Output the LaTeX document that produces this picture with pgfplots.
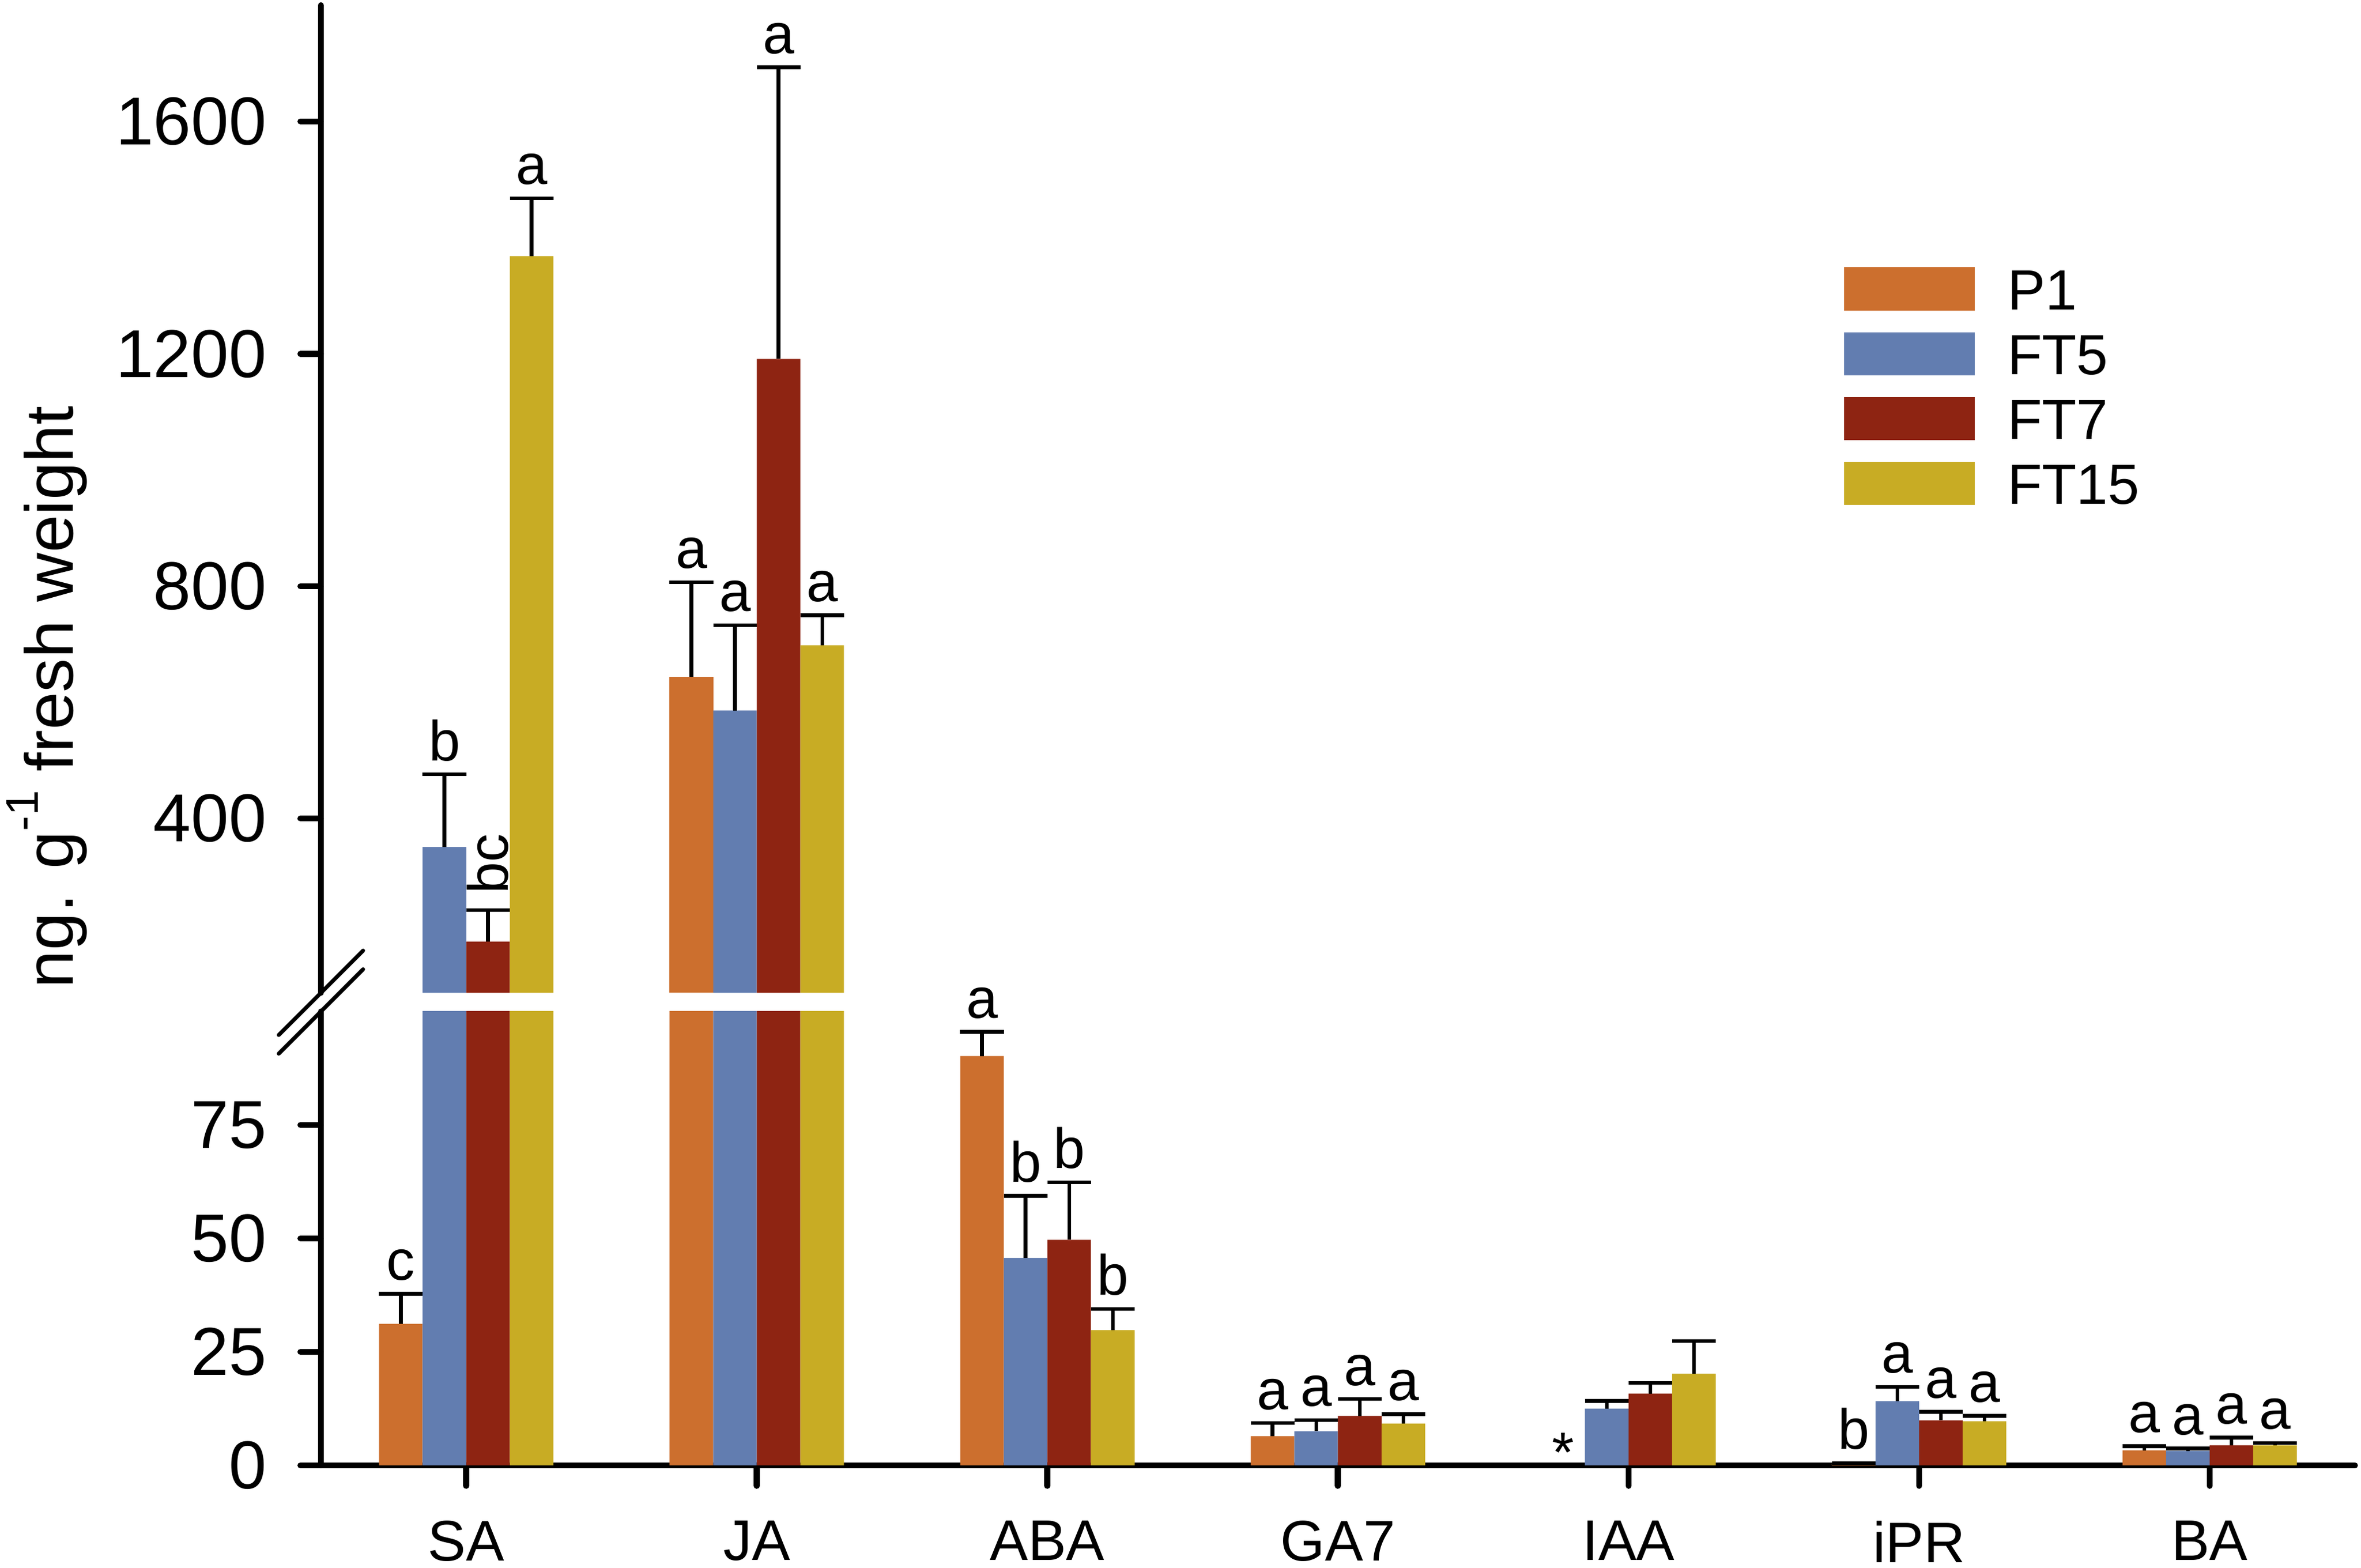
\documentclass[border=0pt]{standalone}
\usepackage{fontspec}
\setmainfont{Liberation Sans}
\usepackage{pgfplots}
\usepackage{pgfplotstable}
\pgfplotsset{compat=1.18}

\definecolor{cP}{RGB}{204,111,46}
\definecolor{cFa}{RGB}{98,125,176}
\definecolor{cFb}{RGB}{142,36,18}
\definecolor{cFc}{RGB}{200,172,36}

% x: 0 SA, 1 JA, 2 ABA, 3 GA7, 4 IAA, 5 iPR, 6 BA
\pgfplotstableread{
x y e
0 31.2 6.6
1 643.8 162.8
2 90.2 5.3
3 6.4 2.9
4 0 0
5 0.2 0.3
6 3.3 0.9
}\tP
\pgfplotstableread{
x y e
0 351 125
1 586 147
2 45.7 13.7
3 7.5 2.5
4 12.5 1.7
5 14.1 3.2
6 3.2 0.5
}\tFa
\pgfplotstableread{
x y e
0 188 54.5
1 1191 502
2 49.7 12.7
3 10.9 3.7
4 15.8 2.4
5 9.9 1.9
6 4.4 1.7
}\tFb
\pgfplotstableread{
x y e
0 1368 100
1 698 52
2 29.8 4.7
3 9.2 2.1
4 20.2 7.2
5 9.7 1.2
6 4.4 0.5
}\tFc

\pgfplotsset{
  every non boxed x axis/.append style={x axis line style={-}},
  every non boxed y axis/.append style={y axis line style={-}},
  mybase/.style={
    scale only axis, width=337.5pt, xmin=-0.5, xmax=6.5,
    enlargelimits=false,
    clip mode=individual,
    tick align=outside, major tick length=3.4pt,
    tick style={line width=1pt, black, line cap=round},
    axis line style={-, line width=1pt, black, line cap=round},
    /pgf/number format/assume math mode=true,
    /pgf/number format/1000 sep={},
    scaled y ticks=false,
    yticklabel style={inner sep=0pt, xshift=-5.4pt, font=\fontsize{11.25}{13}\selectfont},
  },
  bars/.style={ybar, bar width=0.15, bar shift=0pt, draw=none, fill=#1, forget plot,
    error bars/.cd, y dir=plus, y explicit,
    error bar style={line width=0.6pt, black},
    error mark options={rotate=90, mark size=3.62pt, line width=0.6pt, black}},
}
\tikzset{
  lbl/.style={anchor=south, inner sep=0pt, yshift=2pt, font=\fontsize{9.4}{10}\selectfont},
}

\newcommand{\allbars}{%
  \addplot[bars=cP] table[x expr=\thisrow{x}-0.225, y=y, y error=e]{\tP};
  \addplot[bars=cFa] table[x expr=\thisrow{x}-0.075, y=y, y error=e]{\tFa};
  \addplot[bars=cFb] table[x expr=\thisrow{x}+0.075, y=y, y error=e]{\tFb};
  \addplot[bars=cFc] table[x expr=\thisrow{x}+0.225, y=y, y error=e]{\tFc};
}

\begin{document}
\begin{tikzpicture}
\useasboundingbox (0,0) rectangle (391.75pt,260.15pt);

% lower part
\begin{axis}[mybase, name=lower, at={(53.25pt,17.03pt)}, anchor=south west,
  height=75.3pt, ymin=0, ymax=100, ytick={0,25,50,75},
  xtick={0,1,2,3,4,5,6}, xticklabels={SA,JA,ABA,GA7,IAA,iPR,BA},
  axis lines=left, axis line style={-}, tick align=outside,
  xticklabel style={inner sep=0pt, yshift=-5.6pt, font=\fontsize{9.5}{11}\selectfont},
]
\allbars
\node[lbl] at (axis cs:-0.225,37.8) {c};
\node[lbl] at (axis cs:1.775,95.5) {a};
\node[lbl] at (axis cs:1.925,59.4) {b};
\node[lbl] at (axis cs:2.075,62.4) {b};
\node[lbl] at (axis cs:2.225,34.5) {b};
\node[lbl] at (axis cs:2.775,9.3) {a};
\node[lbl] at (axis cs:2.925,10.0) {a};
\node[lbl] at (axis cs:3.075,14.6) {a};
\node[lbl] at (axis cs:3.225,11.3) {a};
\node[anchor=base, inner sep=0pt, font=\fontsize{9.4}{10}\selectfont] at (axis cs:3.775,-1.5) {*};
\node[lbl] at (axis cs:4.775,0.5) {b};
\node[lbl] at (axis cs:4.925,17.3) {a};
\node[lbl] at (axis cs:5.075,11.8) {a};
\node[lbl] at (axis cs:5.225,10.9) {a};
\node[lbl] at (axis cs:5.775,4.2) {a};
\node[lbl] at (axis cs:5.925,3.7) {a};
\node[lbl] at (axis cs:6.075,6.1) {a};
\node[lbl] at (axis cs:6.225,4.9) {a};
\end{axis}

% upper part
\begin{axis}[mybase, name=upper, at={(53.25pt,95.43pt)}, anchor=south west,
  height=163.85pt, ymin=100, ymax=1800, ytick={400,800,1200,1600},
  xtick=\empty, axis y line=left, axis x line=none, axis line style={-}, tick align=outside,
  every axis plot/.append style={restrict y to domain=100:5000},
  legend style={at={(rel axis cs:0.7489,0.7346)}, anchor=north west,
    draw=none, fill=none, inner sep=0pt, outer sep=0pt,
    row sep=3.55pt, column sep=5.4pt,
    font=\fontsize{9.4}{10}\selectfont,
    nodes={inner sep=0pt, text height=6.8pt, text depth=0pt, anchor=base west},
    cells={anchor=base west}},
]
\allbars
\addlegendimage{legend image code/.code={\fill[cP] (0pt,0pt) rectangle (21.3pt,6.8pt);}}
\addlegendentry{P1}
\addlegendimage{legend image code/.code={\fill[cFa] (0pt,0pt) rectangle (21.3pt,6.8pt);}}
\addlegendentry{FT5}
\addlegendimage{legend image code/.code={\fill[cFb] (0pt,0pt) rectangle (21.3pt,6.8pt);}}
\addlegendentry{FT7}
\addlegendimage{legend image code/.code={\fill[cFc] (0pt,0pt) rectangle (21.3pt,6.8pt);}}
\addlegendentry{FT15}
\node[lbl] at (axis cs:-0.075,476) {b};
\node[yshift=2.5pt, rotate=90, anchor=south west, inner sep=0pt, font=\fontsize{9.4}{10}\selectfont] at (axis cs:0.15,242.5) {bc};
\node[lbl] at (axis cs:0.225,1468) {a};
\node[lbl] at (axis cs:0.775,806.6) {a};
\node[lbl] at (axis cs:0.925,733) {a};
\node[lbl] at (axis cs:1.075,1693) {a};
\node[lbl] at (axis cs:1.225,750) {a};
\end{axis}

% axis break marks
\draw[line width=0.65pt, line cap=round] (46.25pt,88.43pt) -- (60.25pt,102.43pt);
\draw[line width=0.65pt, line cap=round] (46.25pt,85.33pt) -- (60.25pt,99.33pt);

% y label
\node[rotate=90, anchor=base, inner sep=0pt, font=\fontsize{11.25}{13}\selectfont] at (12.15pt,144.5pt)
  {ng. g\raisebox{5.85pt}{\fontsize{7.6}{8}\selectfont -1} fresh weight};
\end{tikzpicture}
\end{document}
